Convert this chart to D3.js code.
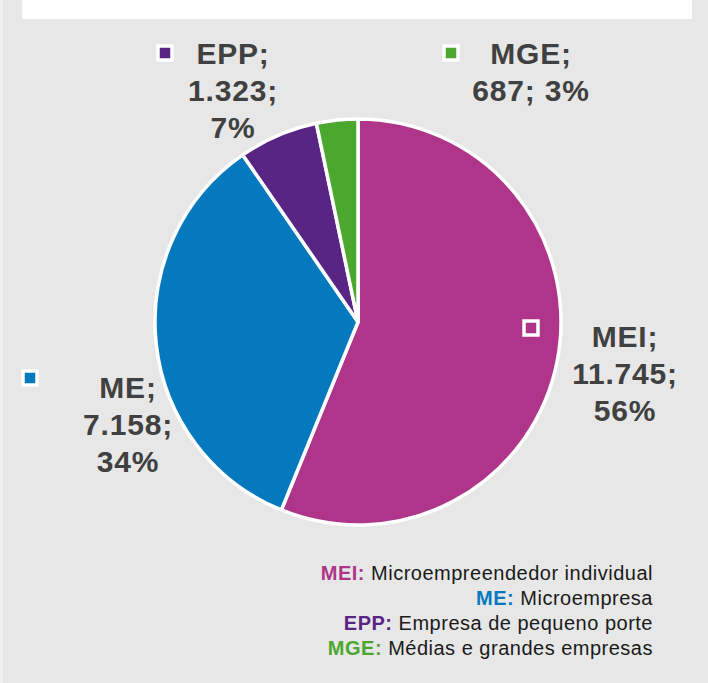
<!DOCTYPE html>
<html>
<head>
<meta charset="utf-8">
<script src="https://cdn.jsdelivr.net/npm/d3@7"></script>
<style>
  html, body { margin: 0; padding: 0; background: #e7e7e7; overflow: hidden; }
  svg { display: block; }
</style>
</head>
<body>
<svg id="chart"></svg>
<script>
// data
const categories = ["MEI", "ME", "EPP", "MGE"];
const values = [11745, 7158, 1323, 687];
const percents = [56, 34, 7, 3];
const colors = ["#ae3589", "#0579be", "#582585", "#4ca72f"];
const descriptions = [
  "Microempreendedor individual",
  "Microempresa",
  "Empresa de pequeno porte",
  "Médias e grandes empresas"
];

// layout
const W = 708, H = 683;
const cx = 358, cy = 322, radius = 203;
const labelFont = "'Liberation Sans', Arial, sans-serif";

// label anchors (center x, first baseline) and legend marker centers
const labelPos = {
  MEI: { x: 625, y: 347, marker: [531, 328] },
  ME:  { x: 128, y: 398, marker: [30, 378] },
  EPP: { x: 233, y: 64,  marker: [165, 53] },
  MGE: { x: 531, y: 64,  marker: [451, 53] }
};

const fmt = d3.formatLocale({ decimal: ",", thousands: ".", grouping: [3], currency: ["R$", ""] }).format(",");

const svg = d3.select("#chart")
    .attr("width", W)
    .attr("height", H);

// background pieces
svg.append("rect").attr("width", W).attr("height", H).attr("fill", "#e7e7e7");
svg.append("rect").attr("width", 3).attr("height", H).attr("fill", "#f1f1f1");
svg.append("rect").attr("x", 22).attr("y", 0).attr("width", 670).attr("height", 19).attr("fill", "#ffffff");

const data = categories.map((c, i) => ({
  cat: c, value: values[i], pct: percents[i], color: colors[i], desc: descriptions[i]
}));

const pie = d3.pie().sort(null).value(d => d.value);
const arc = d3.arc().innerRadius(0).outerRadius(radius);

const pieG = svg.append("g").attr("transform", `translate(${cx},${cy})`);

pieG.selectAll("path")
    .data(pie(data))
    .enter()
    .append("path")
    .attr("d", arc)
    .attr("fill", d => d.data.color)
    .attr("stroke", "#ffffff")
    .attr("stroke-width", 3.5)
    .attr("stroke-linejoin", "round");

// data labels
const labelLines = d => {
  if (d.cat === "MGE") return [d.cat + ";", fmt(d.value) + "; " + d.pct + "%"];
  return [d.cat + ";", fmt(d.value) + ";", d.pct + "%"];
};

const labels = svg.selectAll(".data-label")
    .data(data)
    .enter()
    .append("g")
    .attr("class", "data-label");

labels.append("text")
    .attr("text-anchor", "middle")
    .style("font-family", labelFont)
    .style("font-weight", "bold")
    .style("font-size", "30px")
    .style("letter-spacing", "0.8px")
    .attr("fill", "#404040")
    .each(function (d) {
      const p = labelPos[d.cat];
      d3.select(this).selectAll("tspan")
        .data(labelLines(d))
        .enter()
        .append("tspan")
        .attr("x", p.x)
        .attr("y", (t, i) => p.y + i * 37)
        .text(t => t);
    });

// legend key squares
labels.append("rect")
    .attr("x", d => labelPos[d.cat].marker[0] - 7)
    .attr("y", d => labelPos[d.cat].marker[1] - 7)
    .attr("width", 14)
    .attr("height", 14)
    .attr("fill", d => d.color)
    .attr("stroke", "#ffffff")
    .attr("stroke-width", 3.5);

// abbreviation legend, bottom right
const legend = svg.append("g").attr("class", "abbr-legend");
legend.selectAll("text")
    .data(data)
    .enter()
    .append("text")
    .attr("x", 653)
    .attr("y", (d, i) => 580 + i * 25)
    .attr("text-anchor", "end")
    .style("font-family", labelFont)
    .style("font-size", "20px")
    .style("letter-spacing", "0.5px")
    .each(function (d) {
      const t = d3.select(this);
      t.append("tspan")
        .style("font-weight", "bold")
        .attr("fill", d.color)
        .text(d.cat + ": ");
      t.append("tspan")
        .attr("fill", "#1a1a1a")
        .text(d.desc);
    });
</script>
</body>
</html>
